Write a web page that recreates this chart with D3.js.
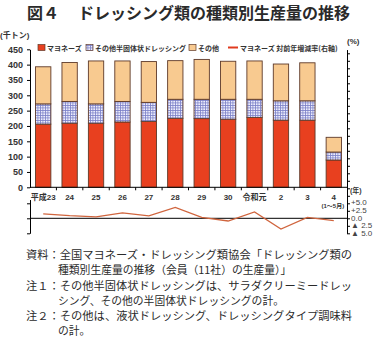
<!DOCTYPE html>
<html>
<head>
<meta charset="utf-8">
<script src="https://cdn.jsdelivr.net/npm/d3@7"></script>
<style>
body { margin: 0; background: #fff; }
svg { display: block; font-family: "Liberation Sans", "Noto Sans CJK JP", sans-serif; }
</style>
</head>
<body>
<svg id="chart" width="378" height="338"></svg>
<script>
// production by type (thousand tonnes)
const years = ["平成23", "24", "25", "26", "27", "28", "29", "30", "令和元", "2", "3", "4"];
const mayo = [206, 209, 209, 213, 215, 225, 224, 222, 228, 219, 219, 89];
const semiSolid = [66, 71, 63, 67, 62, 62, 63, 65, 59, 63, 63, 26];
const others = [121, 127, 140, 132, 133, 126, 130, 124, 125, 120, 124, 48];
// mayonnaise, change from previous year (%)
const mayoChange = [1.5, 0.9, 0.5, 1.8, 0.8, 3.6, 0.3, -0.9, 2.1, -3.6, 0.3, -0.8];

const yTicks = [0, 50, 100, 150, 200, 250, 300, 350, 400, 450];
const rightTicks = [5, 2.5, 0, -2.5, -5];
const rightLabels = ["+5.0", "+2.5", "0.0", "▲ 2.5", "▲ 5.0"];
const seriesNames = ["マヨネーズ", "その他半固体状ドレッシング", "その他"];
const lineName = "マヨネーズ 対前年増減率(右軸)";

const notes = [
  "資料：全国マヨネーズ・ドレッシング類協会「ドレッシング類の",
  "種類別生産量の推移（会員（11社）の生産量）」",
  "注１：その他半固体状ドレッシングは、サラダクリーミードレッ",
  "シング、その他の半固体状ドレッシングの計。",
  "注２：その他は、液状ドレッシング、ドレッシングタイプ調味料",
  "の計。"
];

const svg = d3.select("#chart");
const ink = "#333";
const colors = ["#e8401f", "url(#grid)", "#f8ca90"];
const edge = "#5e3a2a";

// checkered fill for the semi-solid series
const pat = svg.append("defs").append("pattern")
  .attr("id", "grid").attr("patternUnits", "userSpaceOnUse")
  .attr("width", 2.5).attr("height", 2.5);
pat.append("rect").attr("width", 2.5).attr("height", 2.5).attr("fill", "#eeeefc");
pat.append("path").attr("d", "M0,0.4H2.5M0.4,0V2.5")
  .attr("stroke", "#7a80c8").attr("stroke-width", 0.8);

// title
const title = svg.append("text").attr("y", 19)
  .attr("font-family", "Noto Sans CJK JP").attr("font-weight", "bold")
  .attr("font-size", 16).attr("fill", "#2a2a2a");
title.append("tspan").attr("x", 27).text("図４");
title.append("tspan").attr("x", 78).text("ドレッシング類の種類別生産量の推移");

const x = d3.scaleBand().domain(years).range([30, 347])
  .paddingInner(0.42).paddingOuter(0.21);
const y = d3.scaleLinear().domain([0, 450]).range([187.3, 49.3]);
const y2 = d3.scaleLinear().domain([-5, 56.25]).range([233.3, 49.55]);

const rows = years.map((yr, i) => ({ year: yr, a: mayo[i], b: semiSolid[i], c: others[i] }));
const stack = d3.stack().keys(["a", "b", "c"])(rows);

svg.append("g").selectAll("g")
  .data(stack)
  .join("g")
  .attr("fill", (d, i) => colors[i])
  .selectAll("rect")
  .data(d => d)
  .join("rect")
  .attr("x", d => x(d.data.year))
  .attr("width", x.bandwidth())
  .attr("y", d => y(d[1]))
  .attr("height", d => y(d[0]) - y(d[1]))
  .attr("stroke", edge).attr("stroke-width", 0.9);

// left axis
const gy = svg.append("g").attr("transform", "translate(30,0)")
  .call(d3.axisLeft(y).tickValues(yTicks).tickSize(3).tickSizeOuter(0).tickPadding(4));
gy.attr("font-size", 9).attr("font-weight", "bold").attr("font-family", "Liberation Sans");
gy.selectAll("text").attr("fill", ink);

// baseline + category ticks
svg.append("line").attr("x1", 30).attr("x2", 347)
  .attr("y1", y(0)).attr("y2", y(0)).attr("stroke", "#000");
const gap = x.step() * x.paddingInner() / 2;
svg.append("g").selectAll("line")
  .data(years.slice(1))
  .join("line")
  .attr("x1", d => x(d) - gap).attr("x2", d => x(d) - gap)
  .attr("y1", y(0)).attr("y2", y(0) + 3)
  .attr("stroke", "#000");

svg.append("g").selectAll("text")
  .data(years)
  .join("text")
  .attr("x", d => x(d) + x.bandwidth() / 2)
  .attr("y", 200)
  .attr("text-anchor", "middle")
  .attr("font-size", 8).attr("font-weight", "bold").attr("fill", ink)
  .text(d => d);
svg.append("text").attr("x", x("4") + x.bandwidth() / 2 - 1).attr("y", 207.5)
  .attr("text-anchor", "middle").attr("font-size", 6).attr("font-weight", "bold")
  .attr("fill", ink).text("(1～5月)");
svg.append("text").attr("x", 350).attr("y", 193)
  .attr("font-size", 7).attr("font-weight", "bold").attr("fill", ink).text("(年)");

// unit labels
svg.append("text").attr("x", 0).attr("y", 38)
  .attr("font-size", 8).attr("font-weight", "bold").attr("fill", ink).text("(千トン)");
svg.append("text").attr("x", 347).attr("y", 44)
  .attr("font-size", 8).attr("font-weight", "bold").attr("fill", ink).text("(%)");

// right axis (growth rate)
svg.append("g").attr("transform", "translate(347,0)")
  .call(d3.axisRight(y2).tickValues(d3.range(-5, 56, 2.5)).tickSize(3)
    .tickSizeOuter(0).tickFormat(""));
const labelY = d3.scaleLinear().domain([5, -5]).range([205, 236]);
svg.append("g").selectAll("text")
  .data(rightTicks)
  .join("text")
  .attr("x", 351)
  .attr("y", d => labelY(d))
  .attr("font-size", 8).attr("fill", "#444")
  .attr("font-family", "Liberation Sans Narrow, Liberation Sans")
  .text((d, i) => rightLabels[i]);

// lower-left axis of the growth panel
const yLow = d3.scaleLinear().domain([-5, 6.25]).range([y2(-5), y2(6.25)]);
svg.append("g").attr("transform", "translate(30,0)")
  .call(d3.axisLeft(yLow).tickValues([-5, 0, 5]).tickSize(3).tickSizeOuter(0).tickFormat(""));

svg.append("line").attr("x1", 30).attr("x2", 347)
  .attr("y1", y2(0)).attr("y2", y2(0)).attr("stroke", "#000");

const line = d3.line()
  .x((d, i) => x(years[i]) + x.bandwidth() / 2)
  .y(d => y2(d));
svg.append("path").datum(mayoChange)
  .attr("d", line).attr("fill", "none")
  .attr("stroke", "#d0653e").attr("stroke-width", 1.3);

// legend
const lg = svg.append("g").attr("font-family", "Noto Sans CJK JP")
  .attr("font-size", 7).attr("font-weight", "bold").attr("fill", ink);
const boxX = [38, 86, 189];
seriesNames.forEach((name, i) => {
  lg.append("rect").attr("x", boxX[i]).attr("y", 44.5).attr("width", 7).attr("height", 6)
    .attr("fill", colors[i]).attr("stroke", edge).attr("stroke-width", 0.7);
  lg.append("text").attr("x", boxX[i] + 9).attr("y", 50.5).text(name);
});
lg.append("line").attr("x1", 228).attr("x2", 238).attr("y1", 47.5).attr("y2", 47.5)
  .attr("stroke", "#e03a1e").attr("stroke-width", 2);
lg.append("text").attr("x", 240).attr("y", 50.5).text(lineName);

// source and notes
const noteY = [259, 274, 290, 305, 320, 335];
svg.append("g").selectAll("text")
  .data(notes)
  .join("text")
  .attr("x", (d, i) => i % 2 === 0 ? 26 : 58)
  .attr("y", (d, i) => noteY[i])
  .attr("font-family", "Noto Sans CJK JP")
  .attr("font-size", 10.8).attr("fill", "#2a2a2a")
  .each(function(d, i) {
    if (i % 2 === 0) d3.select(this).attr("textLength", 326).attr("lengthAdjust", "spacingAndGlyphs");
  })
  .text(d => d);
</script>
</body>
</html>
